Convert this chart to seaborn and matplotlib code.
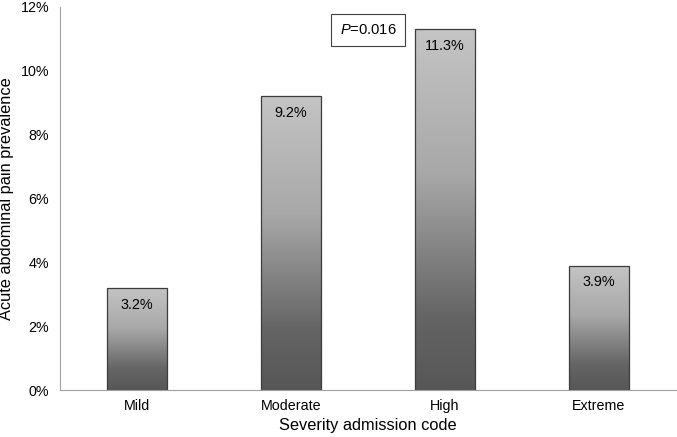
import numpy as np
import pandas as pd
import matplotlib
matplotlib.use("Agg")
import matplotlib.pyplot as plt
from matplotlib.colors import LinearSegmentedColormap
from matplotlib.ticker import PercentFormatter, FixedLocator
import seaborn as sns

# Данные
categories = ["Mild", "Moderate", "High", "Extreme"]
prevalence = [3.2, 9.2, 11.3, 3.9]
bar_labels = ["3.2%", "9.2%", "11.3%", "3.9%"]
p_text = "=0.016"

df = pd.DataFrame({"code": categories, "prev": prevalence})

sns.set_theme(style="white")
plt.rcParams["font.family"] = ["Liberation Sans", "DejaVu Sans"]
plt.rcParams["mathtext.fontset"] = "custom"
plt.rcParams["mathtext.it"] = "Liberation Sans:italic"
plt.rcParams["mathtext.rm"] = "Liberation Sans"
plt.rcParams["text.color"] = "black"
plt.rcParams["axes.labelcolor"] = "black"

fig, ax = plt.subplots(figsize=(6.77, 4.37), dpi=100)
sns.barplot(data=df, x="code", y="prev", ax=ax, width=0.39, color="#888888",
            edgecolor="#3c3c3c", linewidth=0.9)

# Градиент внутри столбцов
cmap = LinearSegmentedColormap.from_list(
    "bar_grad", [(0.0, "#575757"), (0.2, "#646464"), (0.6, "#a8a8a8"), (1.0, "#c4c4c4")])
grad = np.linspace(0, 1, 256).reshape(-1, 1)
for patch in ax.patches:
    x0, y0 = patch.get_x(), patch.get_y()
    w, h = patch.get_width(), patch.get_height()
    im = ax.imshow(grad, extent=[x0, x0 + w, y0, y0 + h], origin="lower",
                   aspect="auto", cmap=cmap, zorder=patch.get_zorder() - 0.1)
    im.set_clip_path(patch)
    patch.set_facecolor("none")
    patch.set_zorder(patch.get_zorder() + 1)

for i, (v, lab) in enumerate(zip(prevalence, bar_labels)):
    ax.text(i, v - 0.3, lab, ha="center", va="top", fontsize=10.4, color="black", zorder=5)

ax.set_xlim(-0.5, 3.5)
ax.set_ylim(0, 12)
ax.yaxis.set_major_locator(FixedLocator(np.arange(0, 13, 2)))
ax.yaxis.set_major_formatter(PercentFormatter(decimals=0))

# Засечки на границах категорий
ax.xaxis.set_minor_locator(FixedLocator([0.5, 1.5, 2.5, 3.5]))
ax.tick_params(axis="x", which="major", length=0, labelsize=10.3, pad=6, labelcolor="black")
ax.tick_params(axis="x", which="minor", length=4, color="#a0a0a0", width=0.8, direction="out")
ax.tick_params(axis="y", length=4, color="#a0a0a0", width=0.8, direction="out",
               labelsize=10.3, pad=4, labelcolor="black")

sns.despine(ax=ax)
for s in ["left", "bottom"]:
    ax.spines[s].set_color("#a0a0a0")
    ax.spines[s].set_linewidth(0.8)

ax.set_xlabel("Severity admission code", fontsize=11.8, labelpad=4)
ax.set_ylabel("Acute abdominal pain prevalence", fontsize=11.8, labelpad=5)

# P-value
ax.text(1.5, 11.28, r"$\mathit{P}$" + p_text, ha="center", va="center", fontsize=10.6,
        bbox=dict(boxstyle="square,pad=0.6", facecolor="white", edgecolor="#404040", linewidth=0.8),
        zorder=6)

fig.subplots_adjust(left=0.089, right=0.998, top=0.984, bottom=0.107)
fig.savefig("out.png", dpi=100)
